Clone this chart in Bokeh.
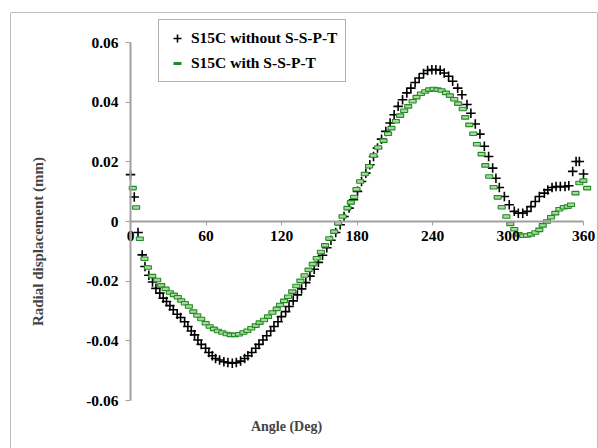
import math
from bokeh.plotting import figure
from bokeh.models import (LinearAxis, FixedTicker, Range1d, Span, Label,
                          Legend, LegendItem)
from bokeh.embed import file_html
from bokeh.resources import INLINE

# ---------------- data ----------------
series_names = ["S15C without S-S-P-T", "S15C with S-S-P-T"]
x_title = "Angle (Deg)"
y_title = "Radial displacement (mm)"
x_ticks = [0, 60, 120, 180, 240, 300, 360]
y_ticks = [-0.06, -0.04, -0.02, 0, 0.02, 0.04, 0.06]
y_tick_text = ["-0.06", "-0.04", "-0.02", "0", "0.02", "0.04", "0.06"]

angle_without = [
    0.0, 3.0, 6.0, 9.3, 11.5, 14.6, 17.5, 20.2, 23.3, 26.0, 28.6, 31.3, 34.0,
    37.1, 39.8, 43.0, 45.6, 48.3, 50.9, 53.6, 56.2, 59.7, 62.3, 65.0, 67.6,
    70.8, 74.2, 77.4, 80.9, 84.1, 87.5, 90.7, 93.3, 96.3, 99.5, 102.1, 105.3,
    108.2, 111.4, 114.0, 117.2, 119.9, 123.3, 126.0, 129.3, 132.6, 136.0,
    139.3, 142.6, 146.0, 149.3, 152.6, 156.0, 159.3, 163.1, 166.6, 169.7,
    173.7, 177.2, 180.4, 183.6, 187.0, 190.2, 193.1, 196.3, 199.5, 202.9,
    206.3, 209.5, 212.7, 216.2, 219.6, 222.8, 226.2, 229.4, 232.9, 236.1,
    239.5, 242.7, 246.1, 249.3, 252.8, 256.0, 260.0, 263.4, 267.4, 270.5,
    274.0, 277.7, 281.2, 284.6, 287.8, 290.4, 293.1, 297.1, 301.0, 305.0,
    308.2, 311.7, 315.1, 318.3, 321.7, 324.9, 328.9, 331.6, 335.0, 338.2,
    341.6, 345.3, 348.3, 351.4, 354.1, 356.7, 360.0]
disp_without = [
    0.0157, 0.0082, -0.0037, -0.0112, -0.0151, -0.0180, -0.0203, -0.0224,
    -0.0240, -0.0257, -0.0268, -0.0282, -0.0296, -0.0311, -0.0322, -0.0336,
    -0.0352, -0.0367, -0.0380, -0.0397, -0.0412, -0.0425, -0.0439, -0.0450,
    -0.0459, -0.0464, -0.0470, -0.0473, -0.0475, -0.0473, -0.0468, -0.0459,
    -0.0450, -0.0439, -0.0425, -0.0412, -0.0397, -0.0383, -0.0367, -0.0352,
    -0.0336, -0.0319, -0.0302, -0.0285, -0.0266, -0.0246, -0.0226, -0.0205,
    -0.0183, -0.0160, -0.0137, -0.0113, -0.0088, -0.0063, -0.0037, -0.0011,
    0.0017, 0.0045, 0.0073, 0.0101, 0.0134, 0.0162, 0.0190, 0.0218, 0.0246,
    0.0276, 0.0302, 0.0330, 0.0358, 0.0386, 0.0408, 0.0431, 0.0447, 0.0466,
    0.0481, 0.0496, 0.0506, 0.0509, 0.0509, 0.0507, 0.0498, 0.0487, 0.0470,
    0.0447, 0.0425, 0.0392, 0.0363, 0.0327, 0.0293, 0.0252, 0.0218, 0.0179,
    0.0145, 0.0114, 0.0084, 0.0056, 0.0034, 0.0028, 0.0028, 0.0034, 0.0050,
    0.0067, 0.0084, 0.0095, 0.0106, 0.0114, 0.0117, 0.0117, 0.0117, 0.0120,
    0.0168, 0.0201, 0.0201, 0.0159]

angle_with = [
    1.8, 4.5, 7.4, 11.1, 13.8, 17.3, 21.2, 24.4, 27.9, 31.3, 34.5, 37.6, 40.3,
    43.2, 46.4, 49.9, 53.1, 56.2, 59.7, 62.9, 66.3, 69.5, 73.0, 76.4, 79.6,
    83.0, 86.2, 89.7, 92.9, 96.0, 99.5, 102.6, 106.1, 109.3, 112.8, 116.2,
    118.8, 122.0, 125.2, 128.5, 131.8, 135.0, 138.3, 141.5, 144.8, 148.0,
    151.3, 154.6, 158.0, 161.8, 165.0, 168.5, 172.4, 175.1, 177.7, 179.6,
    182.5, 186.2, 189.6, 193.1, 196.8, 201.1, 204.7, 207.4, 210.9, 214.3,
    217.5, 220.7, 224.2, 227.3, 230.8, 234.2, 237.4, 240.9, 244.0, 247.2,
    250.7, 253.8, 257.3, 260.4, 264.0, 266.0, 269.2, 272.4, 275.3, 279.0,
    282.0, 285.1, 288.6, 291.8, 295.0, 298.7, 301.8, 305.0, 308.5, 312.2,
    315.1, 318.3, 321.7, 324.9, 327.6, 331.0, 334.2, 337.6, 340.8, 344.3,
    347.5, 350.1, 353.6, 356.7, 359.9, 362.9]
disp_with = [
    0.0112, 0.0047, -0.0058, -0.0125, -0.0154, -0.0183, -0.0196, -0.0214,
    -0.0226, -0.0238, -0.0246, -0.0254, -0.0265, -0.0274, -0.0285, -0.0302,
    -0.0315, -0.0327, -0.0341, -0.0352, -0.0360, -0.0367, -0.0372, -0.0377,
    -0.0380, -0.0380, -0.0378, -0.0372, -0.0366, -0.0358, -0.0349, -0.0339,
    -0.0330, -0.0319, -0.0305, -0.0293, -0.0280, -0.0266, -0.0252, -0.0235,
    -0.0216, -0.0199, -0.0181, -0.0162, -0.0143, -0.0123, -0.0102, -0.0080,
    -0.0057, -0.0034, -0.0006, 0.0017, 0.0045, 0.0064, 0.0082, 0.0108,
    0.0134, 0.0159, 0.0185, 0.0221, 0.0248, 0.0271, 0.0294, 0.0313, 0.0336,
    0.0355, 0.0371, 0.0386, 0.0403, 0.0417, 0.0428, 0.0436, 0.0442, 0.0444,
    0.0442, 0.0439, 0.0431, 0.0422, 0.0410, 0.0395, 0.0377, 0.0349, 0.0324,
    0.0294, 0.0259, 0.0226, 0.0188, 0.0151, 0.0115, 0.0081, 0.0048, 0.0017,
    -0.0008, -0.0026, -0.0043, -0.0048, -0.0047, -0.0043, -0.0037, -0.0028,
    -0.0013, 0.0000, 0.0014, 0.0028, 0.0041, 0.0048, 0.0050, 0.0056, 0.0095,
    0.0129, 0.0137, 0.0112]

# ---------------- layout (pixels) ----------------
W, H = 598, 448
FL, FT, FR = 10, 12, 597          # outer box (frame) edges
AX0, AX1 = 130, 583               # x-axis 0..360 in px
AY_TOP, AY_BOT = 42, 400          # y-axis 0.06..-0.06 in px

xs = (AX1 - AX0) / 360.0
x_start = -(AX0 - FL) / xs
x_end = 360 + (FR - AX1) / xs
ys = (AY_BOT - AY_TOP) / 0.12
y_end = 0.06 + (AY_TOP - FT) / ys
y_start = -0.06 - (H - AY_BOT) / ys

p = figure(width=W, height=H, output_backend="svg", toolbar_location=None,
           x_range=Range1d(x_start, x_end), y_range=Range1d(y_start, y_end),
           x_axis_location=None, y_axis_location=None,
           min_border_left=FL, min_border_right=W - FR, min_border_top=FT,
           min_border_bottom=0, outline_line_color=None,
           background_fill_color="white", border_fill_color="white")
for g in p.grid:
    g.visible = False

FONT = "Liberation Serif"
AXC = "#a0a0a0"

xaxis = LinearAxis(fixed_location=0, bounds=(0, 360),
                   ticker=FixedTicker(ticks=x_ticks))
yaxis = LinearAxis(fixed_location=0, bounds=(-0.06, 0.06),
                   ticker=FixedTicker(ticks=y_ticks),
                   major_label_overrides=dict(zip(y_ticks, y_tick_text)))
for ax in (xaxis, yaxis):
    ax.axis_line_color = AXC
    ax.axis_line_width = 2
    ax.major_tick_line_color = AXC
    ax.major_tick_line_width = 1
    ax.major_tick_in = 0
    ax.major_tick_out = 5
    ax.minor_tick_line_color = None
    ax.major_label_text_font = FONT
    ax.major_label_text_font_style = "bold"
    ax.major_label_text_font_size = "15.5px"
    ax.major_label_text_color = "black"
xaxis.major_tick_out = 4
xaxis.major_label_standoff = 5
yaxis.major_label_standoff = 7
p.add_layout(xaxis, "below")
p.add_layout(yaxis, "left")

# outer box (left, top, right)
for loc, dim in ((x_start, "height"), (x_end, "height"), (y_end, "width")):
    p.add_layout(Span(location=loc, dimension=dim, line_color="#7f7f7f",
                      line_width=1))

r_without = p.scatter(angle_without, disp_without, marker="cross", size=9.5,
                      line_color="black", line_width=1.6)
GREEN = "#228b22"
r_with = p.rect(angle_with, disp_with, width=7, height=3.5,
                width_units="screen", height_units="screen",
                fill_color="#a8d8a0", line_color=GREEN, line_width=1.1)
r_with_leg = p.scatter(x=[float("nan")], y=[float("nan")], marker="dash",
                       size=7, line_color=GREEN, line_width=3)

legend = Legend(items=[LegendItem(label=series_names[0], renderers=[r_without]),
                       LegendItem(label=series_names[1], renderers=[r_with_leg])],
                location=(148, 366), margin=0, padding=8, spacing=5,
                glyph_width=20, glyph_height=20, label_standoff=4,
                border_line_color="#606060", border_line_width=1,
                background_fill_color="white", background_fill_alpha=1,
                label_text_font=FONT, label_text_font_style="bold",
                label_text_font_size="15.5px", label_text_color="black")
p.add_layout(legend)

p.add_layout(Label(x=(286 - AX0) / xs, y=(220 - 425) / ys, text=x_title,
                   text_align="center", text_baseline="middle",
                   text_font=FONT, text_font_style="bold",
                   text_font_size="14px"))
p.add_layout(Label(x=(37 - AX0) / xs, y=(220 - 240) / ys, text=y_title,
                   angle=math.pi / 2,
                   text_align="center", text_baseline="middle",
                   text_font=FONT, text_font_style="bold",
                   text_font_size="15px"))

open("out.html", "w").write(file_html(p, INLINE))
